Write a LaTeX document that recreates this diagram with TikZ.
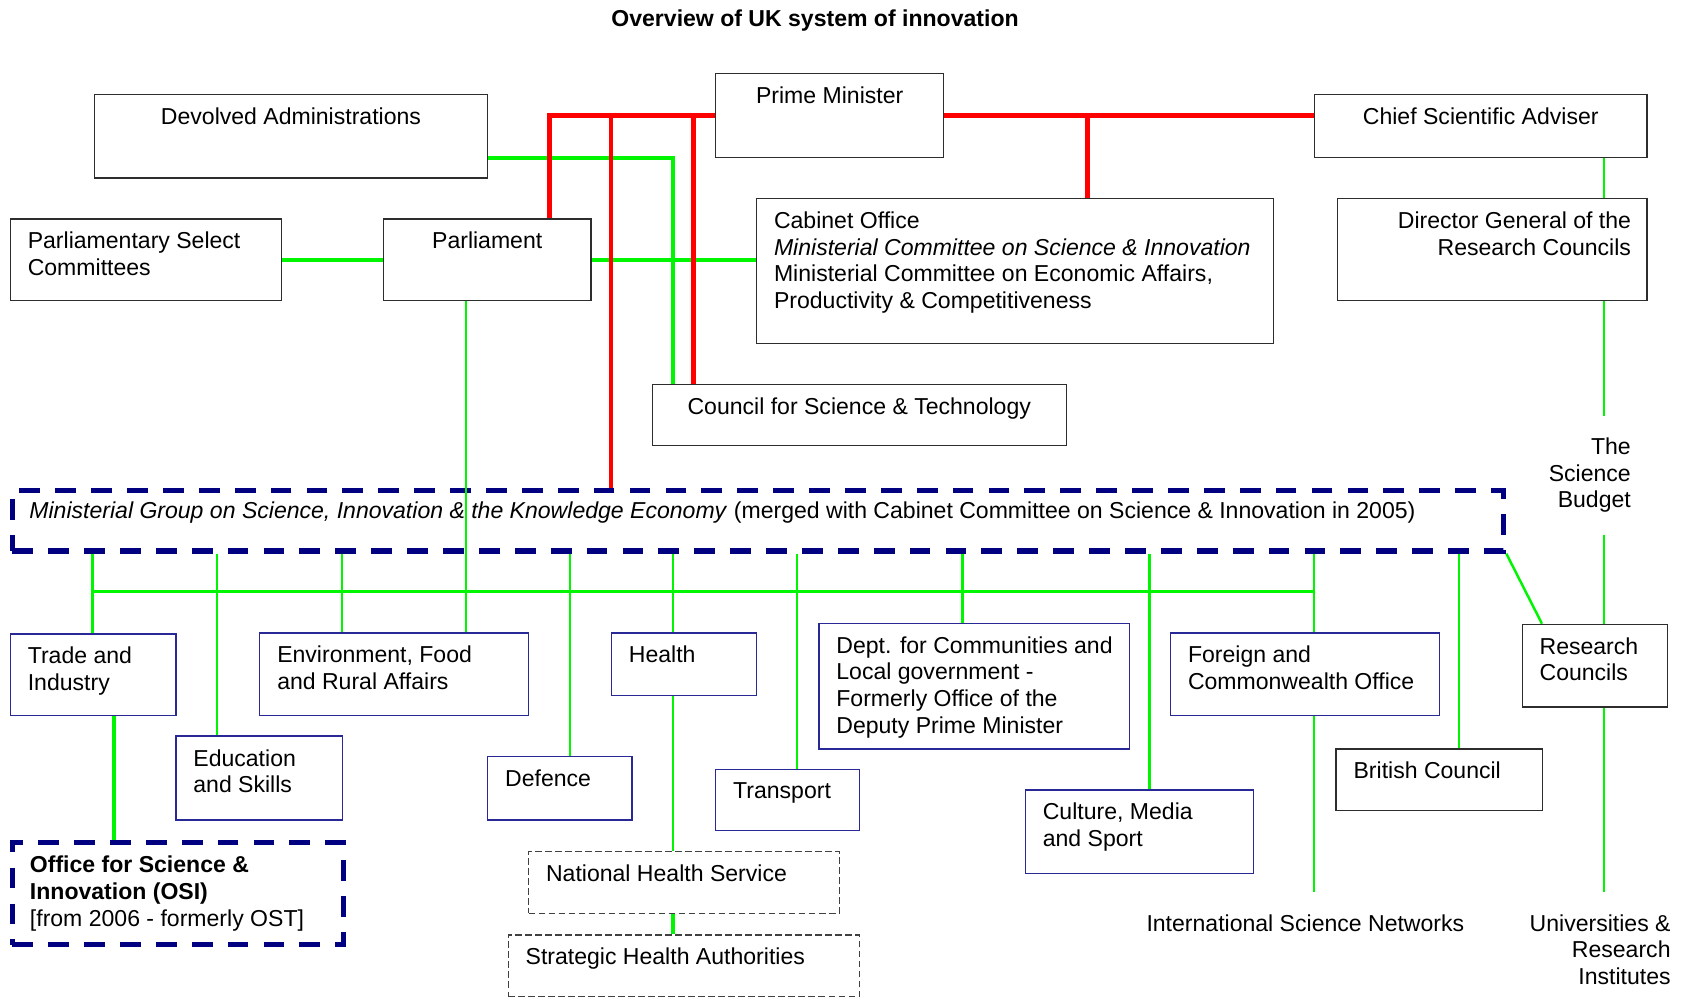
\documentclass[tikz,border=0pt]{standalone}
\usepackage{fontspec}
\setmainfont{Liberation Sans}
\definecolor{linegreen}{RGB}{0,245,0}
\definecolor{deptblue}{RGB}{40,40,150}
\definecolor{groupnavy}{RGB}{0,0,128}
\definecolor{boxgrey}{RGB}{45,45,45}
\tikzstyle{box}=[draw=boxgrey,line width=0.7pt,rectangle,anchor=north west,inner sep=0pt]
\tikzstyle{deptbox}=[box,draw=deptblue]
\tikzstyle{groupbox}=[box,draw=groupnavy,line width=2.8pt,dash pattern=on 11pt off 8pt]
\tikzstyle{nhsbox}=[box,draw=black!75,line width=0.6pt,dash pattern=on 3.5pt off 1.8pt]
\tikzstyle{txtl}=[anchor=north west,align=left,inner xsep=0.33cm,inner ysep=0.25cm]
\tikzstyle{txtc}=[anchor=north,align=center,inner ysep=0.25cm]
\tikzstyle{txtr}=[anchor=north east,align=right,inner xsep=0.3cm,inner ysep=0.25cm]
\tikzstyle{redline}=[draw=red,line width=2.6pt]
\tikzstyle{redthin}=[draw=red,line width=2.1pt]
\tikzstyle{greenline}=[draw=linegreen,line width=2.1pt]
\tikzstyle{greenmid}=[draw=linegreen,line width=1.3pt]
\tikzstyle{greenthin}=[draw=linegreen,line width=1.05pt]
\tikzset{wh/.style 2 args={minimum width=#1*0.02cm,minimum height=#2*0.02cm}}

\begin{document}
\begin{tikzpicture}[x=0.02cm,y=-0.02cm,font=\fontsize{12.2}{14.1}\selectfont]
    \useasboundingbox (0,0) rectangle (1568,931);
    \node[font=\fontsize{12.2}{14.1}\selectfont\bfseries] (title) at (758,19) {Overview of UK system of innovation};

    % Top of the chart
    \node[box,wh={366}{78},label={[txtc]north:Devolved Administrations}] (da) at (87,87) {};
    \node[box,wh={212}{78},label={[txtc]north:Prime Minister}] (pm) at (665,68) {};
    \node[box,wh={309}{59},label={[txtc]north:Chief Scientific Adviser}] (csa) at (1222,87) {};
    \node[box,wh={252}{76},label={[txtl]north west:Parliamentary Select\\Committees}] (psc) at (9,203) {};
    \node[box,wh={193}{76},label={[txtc]north:Parliament}] (parl) at (356,203) {};
    \node[box,wh={481}{135},label={[txtl]north west:Cabinet Office\\\textit{Ministerial Committee on Science \& Innovation}\\Ministerial Committee on Economic Affairs,\\Productivity \& Competitiveness}] (cab) at (703,184) {};
    \node[box,wh={288}{95},label={[txtr]north east:Director General of the\\Research Councils}] (dg) at (1243,184) {};
    \node[box,wh={385}{57},label={[txtc]north:Council for Science \& Technology}] (cst) at (606,357) {};
    \node[groupbox,wh={1387}{56},label={[txtl,inner xsep=0.36cm]north west:\textit{Ministerial Group on Science, Innovation \& the Knowledge Economy} (merged with Cabinet Committee on Science \& Innovation in 2005)}] (mg) at (9,454) {};

    % Departments
    \node[deptbox,wh={154}{76},label={[txtl]north west:Trade and\\Industry}] (trade) at (9,589) {};
    \node[deptbox,wh={155}{78},label={[txtl]north west:Education\\and Skills}] (edu) at (163,684) {};
    \node[deptbox,wh={250}{77},label={[txtl]north west:Environment, Food\\and Rural Affairs}] (env) at (241,588) {};
    \node[deptbox,wh={134}{59},label={[txtl]north west:Defence}] (def) at (453,703) {};
    \node[deptbox,wh={135}{58},label={[txtl]north west:Health}] (health) at (568,588) {};
    \node[deptbox,wh={134}{57},label={[txtl]north west:Transport}] (trans) at (665,715) {};
    \node[deptbox,wh={289}{117},label={[txtl]north west:Dept. for Communities and\\Local government -\\Formerly Office of the\\Deputy Prime Minister}] (dclg) at (761,579) {};
    \node[deptbox,wh={212}{78},label={[txtl]north west:Culture, Media\\and Sport}] (cms) at (953,734) {};
    \node[deptbox,wh={250}{77},label={[txtl]north west:Foreign and\\Commonwealth Office}] (fco) at (1088,588) {};
    \node[box,wh={192}{57},label={[txtl]north west:British Council}] (bc) at (1242,696) {};
    \node[box,wh={135}{77},label={[txtl]north west:Research\\Councils}] (rc) at (1415,580) {};

    % Bottom row
    \node[groupbox,wh={308}{95},label={[txtl,inner xsep=0.37cm,inner ysep=0.3cm]north west:\textbf{Office for Science \&}\\\textbf{Innovation (OSI)}\\{}[from 2006 - formerly OST]}] (osi) at (9,781) {};
    \node[nhsbox,wh={289}{58},label={[txtl]north west:National Health Service}] (nhs) at (491,791) {};
    \node[nhsbox,wh={327}{57},label={[txtl]north west:Strategic Health Authorities}] (sha) at (472,869) {};
    \node[align=right,anchor=north east,inner xsep=0pt,inner ysep=0.4cm] (budget) at (1517,387) {The\\Science\\Budget};
    \node[anchor=north,inner ysep=0.4cm] (isn) at (1214,830) {International Science Networks};
    \node[align=right,anchor=north east,inner xsep=0pt,inner ysep=0.4cm] (unis) at (1554,830) {Universities \&\\Research\\Institutes};

    % Green links
    \draw[greenline] ([yshift=-0.4cm]da.east) -| (626,0 |- cst.north);
    \draw[greenline] (psc.east) -- (parl.west);
    \draw[greenline] (parl.east) -- (parl.east -| cab.west);
    \draw[greenthin] (433,0 |- parl.south) -- (433,0 |- env.north);
    \draw[greenthin] (1492,0 |- csa.south) -- (1492,0 |- dg.north);
    \draw[greenthin] (1492,0 |- dg.south) -- (1492,0 |- budget.north);
    \draw[greenthin] (1492,0 |- budget.south) -- (1492,0 |- rc.north);
    \draw[greenthin] (1492,0 |- rc.south) -- (1492,0 |- unis.north);
    \draw[greenmid] (mg.south east) -- (1434,0 |- rc.north);
    \draw[greenthin] (1357,0 |- mg.south) -- (1357,0 |- bc.north);

    % the bus under the ministerial group
    \coordinate (bus) at (0,550);
    \draw[greenmid] (trade.north |- bus) -- (1222,0 |- bus);
    \foreach \x/\dept in {86/trade, 202/edu, 318/env, 530/def, 626/health, 741/trans, 895/dclg, 1069/cms, 1222/fco}
        \draw[greenmid] (\x,0 |- mg.south) -- (\x,0 |- \dept.north);

    \draw[greenline] (106,0 |- trade.south) -- (106,0 |- osi.north);
    \draw[greenthin] (626,0 |- health.south) -- (626,0 |- nhs.north);
    \draw[greenline] (626,0 |- nhs.south) -- (626,0 |- sha.north);
    \draw[greenthin] (1222,0 |- fco.south) -- (1222,0 |- isn.north);

    % Red links from the Prime Minister
    \draw[redline] (pm.west) -| (511,0 |- parl.north);
    \draw[redthin] (568,0 |- pm.west) -- (568,0 |- mg.north);
    \draw[redline] (645,0 |- pm.west) -- (645,0 |- cst.north);
    \draw[redline] (pm.east) -- (pm.east -| csa.west);
    \draw[redline] (1011,0 |- pm.east) -- (1011,0 |- cab.north);
\end{tikzpicture}
\end{document}
